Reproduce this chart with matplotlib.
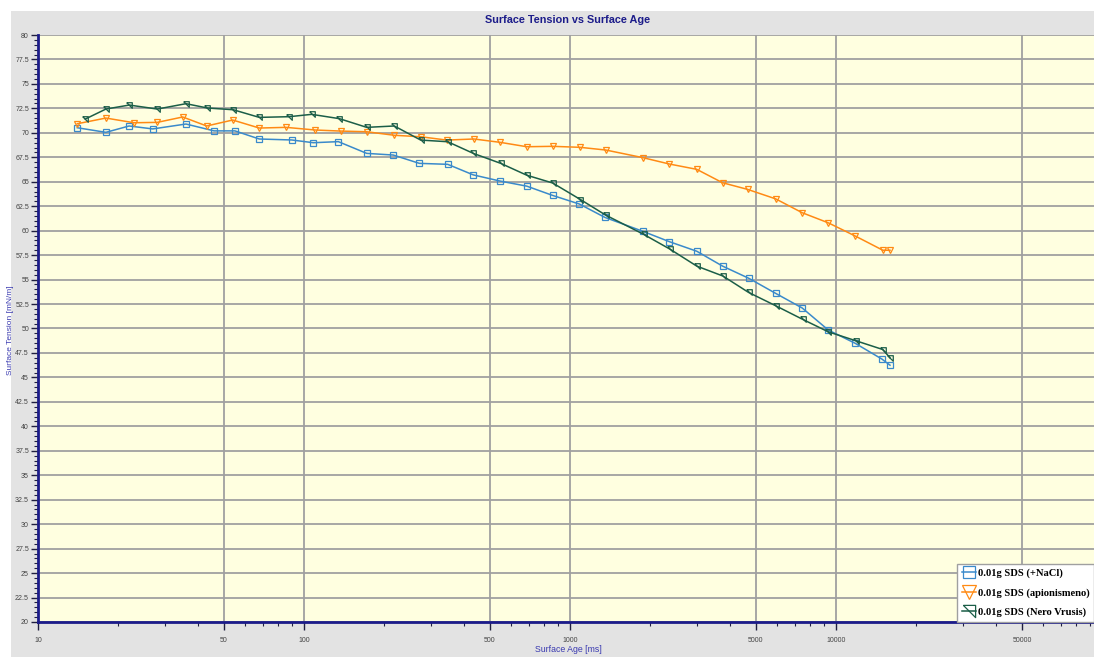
import matplotlib
matplotlib.use('Agg')
import matplotlib.pyplot as plt
from matplotlib.patches import Rectangle
from matplotlib.ticker import FixedLocator, FuncFormatter, MultipleLocator

# Surface age [ms] and surface tension [mN/m]
age_nacl = [14.05, 18.0, 22.0, 27.0, 36.0, 45.9, 55.0, 67.9, 89.9, 108.4, 134.6,
            172.1, 216.6, 271.4, 347, 433, 546, 688, 861, 1085, 1354, 1881,
            2366, 2995, 3744, 4710, 5933, 7469, 9356, 11820, 14890, 15960]
st_nacl = [70.52, 70.05, 70.7, 70.4, 70.9, 70.2, 70.2, 69.37, 69.27, 68.99, 69.1,
           67.9, 67.73, 66.88, 66.78, 65.7, 65.07, 64.55, 63.6, 62.72, 61.35, 59.93,
           58.87, 57.9, 56.38, 55.12, 53.59, 52.09, 49.84, 48.48, 46.87, 46.25]

age_apion = [14.05, 18.0, 22.96, 28.09, 35.0, 43.07, 53.95, 67.9, 85.6, 110.0, 137.4,
             172.1, 218.5, 274.6, 344, 435.5, 545.7, 687.5, 861, 1090, 1365, 1881,
             2366, 2995, 3744, 4650, 5933, 7469, 9356, 11820, 15000, 15960]
st_apion = [70.93, 71.51, 71.03, 71.07, 71.62, 70.7, 71.31, 70.49, 70.56, 70.29, 70.18,
            70.11, 69.75, 69.6, 69.26, 69.37, 69.03, 68.58, 68.62, 68.52, 68.24, 67.46,
            66.81, 66.27, 64.9, 64.22, 63.25, 61.83, 60.8, 59.45, 58.0, 58.0]

age_nero = [15.06, 18.0, 22.04, 28.09, 36.0, 43.3, 54.2, 67.9, 88.0, 106.9, 135.8,
            172.1, 218.5, 274.6, 347, 433, 549, 687.5, 861, 1095, 1360, 1890,
            2380, 2995, 3760, 4690, 5970, 7500, 9356, 11900, 15000, 15960]
st_nero = [71.41, 72.43, 72.84, 72.43, 72.98, 72.54, 72.36, 71.58, 71.65, 71.89, 71.45,
           70.56, 70.7, 69.26, 69.09, 67.9, 66.88, 65.67, 64.87, 63.18, 61.6, 59.63,
           58.1, 56.38, 55.36, 53.69, 52.29, 50.93, 49.66, 48.74, 47.85, 47.0]

labels = ['0.01g SDS (+NaCl)', '0.01g SDS (apionismeno)', '0.01g SDS (Nero Vrusis)']
x_major = [10, 50, 100, 500, 1000, 5000, 10000, 50000]

navy = '#1c1c8a'
sans = ['Liberation Sans', 'DejaVu Sans']

fig = plt.figure(figsize=(10.94, 6.57), dpi=100)
fig.patch.set_facecolor('white')
# grey chart frame
fig.patches.append(Rectangle((11 / 1094, 0), 1 - 11 / 1094, 1 - 11 / 657,
                             transform=fig.transFigure, facecolor='#e3e3e3',
                             edgecolor='none', zorder=-1))

ax = fig.add_axes([38 / 1094, 1 - 622 / 657, 1 - 38 / 1094, (622 - 35) / 657])
ax.set_facecolor('#ffffe0')

tri = [(-1, 1), (1, 1), (1, -1), (-1, 1)]
ax.plot(age_nacl, st_nacl, color='#3a8acb', lw=1.1, marker='s', ms=4,
        mfc='none', mew=0.9, label=labels[0], zorder=3)
ax.plot(age_apion, st_apion, color='#ff8a14', lw=1.1, marker='v', ms=4.5,
        mfc='none', mew=0.9, label=labels[1], zorder=3)
ax.plot(age_nero, st_nero, color='#1b5e48', lw=1.1, marker=tri, ms=4,
        mfc='none', mew=0.9, label=labels[2], zorder=3)

ax.set_xscale('log')
ax.set_xlim(10, 10 ** (1 + (1094 - 38) / 266))
ax.set_ylim(20, 80)

ax.xaxis.set_major_locator(FixedLocator(x_major))
ax.xaxis.set_major_formatter(FuncFormatter(lambda v, p: f'{v:g}'))
minors = [m * 10 ** e for e in range(1, 5) for m in (2, 3, 4, 6, 7, 8, 9)]
ax.xaxis.set_minor_locator(FixedLocator(minors))
ax.xaxis.set_minor_formatter(FuncFormatter(lambda v, p: ''))
ax.yaxis.set_major_locator(MultipleLocator(2.5))
ax.yaxis.set_minor_locator(MultipleLocator(0.5))
ax.yaxis.set_major_formatter(FuncFormatter(lambda v, p: f'{v:g}'))

ax.tick_params(which='major', length=5, width=1, color='#202040', direction='out',
               labelsize=5, labelcolor='#444444', pad=1.5)
ax.tick_params(axis='x', which='major', length=6, pad=5)
ax.tick_params(which='minor', length=3, width=0.8, color='#202040', direction='out')
for t in ax.get_xticklabels() + ax.get_yticklabels():
    t.set_family(sans)

ax.grid(True, which='major', color='#a0a0a0', lw=1.3)
ax.set_axisbelow(True)
for s in ('top', 'right'):
    ax.spines[s].set_visible(False)
for s in ('left', 'bottom'):
    ax.spines[s].set_color(navy)
    ax.spines[s].set_linewidth(2)

fig.text(568 / 1094, 1 - 20 / 657, 'Surface Tension vs Surface Age', ha='center',
         va='center', fontsize=7.8, fontweight='bold', color=navy, family=sans)
fig.text(11 / 1094, 1 - 330 / 657, 'Surface Tension [mN/m]', rotation=90, ha='center',
         va='center', fontsize=6, color='#3a3ab0', family=sans)
fig.text(568 / 1094, 1 - 650 / 657, 'Surface Age [ms]', ha='center', va='center',
         fontsize=6.3, color='#3a3ab0', family=sans)

leg = ax.legend(loc='lower right', bbox_to_anchor=(1.0, 0.0), fancybox=False,
                framealpha=1, edgecolor='#a0a0a0', markerscale=2.2, handlelength=1.3,
                handletextpad=0.15, borderpad=0.45, labelspacing=0.95, borderaxespad=0,
                prop={'family': ['Liberation Serif', 'DejaVu Serif'],
                      'weight': 'bold', 'size': 7.6})
leg.get_frame().set_linewidth(1)

fig.savefig('out.png', dpi=100)
